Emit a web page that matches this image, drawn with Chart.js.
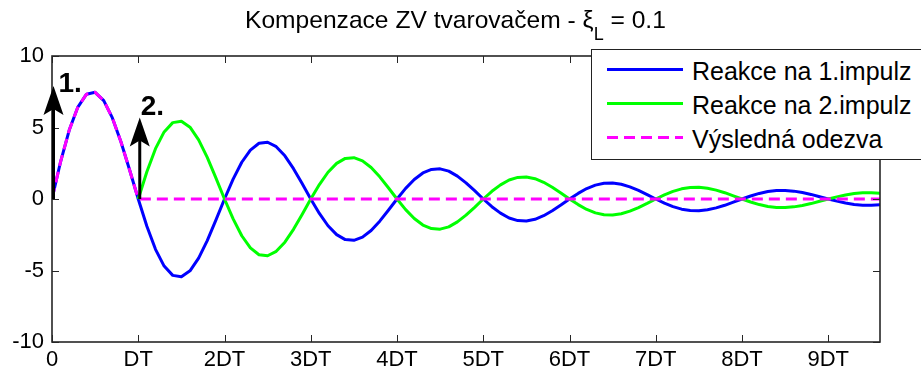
<!DOCTYPE html>
<html>
<head>
<meta charset="utf-8">
<script src="https://cdn.jsdelivr.net/npm/chart.js@4"></script>
<style>
    body { margin: 0; background: #fff; overflow: hidden; }
    #wrap { position: relative; width: 921px; height: 373px; overflow: hidden; font-family: "Liberation Sans", Arial, sans-serif; }
    #plot { position: absolute; left: 0; top: 0; }
    #title { position: absolute; left: 245px; top: 7px; font-size: 24.6px; line-height: 25px; white-space: nowrap; color: #000; }
    #title sub { font-size: 18px; position: relative; top: 12px; vertical-align: baseline; }
    #legend { position: absolute; left: 591px; top: 49px; width: 400px; height: 111px; box-sizing: border-box; border: 1.5px solid #222; background: #fff; }
    #legend .row { position: absolute; left: 0; height: 34px; line-height: 34px; font-size: 25px; white-space: nowrap; color: #000; }
    #legend .row svg { position: absolute; left: 14px; top: 0; }
    #legend .row span { position: absolute; left: 100px; }
</style>
</head>
<body>
<div id="wrap">
    <canvas id="plot" width="921" height="373"></canvas>
    <div id="title">Kompenzace ZV tvarovačem - ξ<sub>L</sub> = 0.1</div>
    <div id="legend"></div>
</div>
<script>
// time axis in multiples of DT
const tValues = [
    0, 0.1, 0.2, 0.3, 0.4, 0.5, 0.6, 0.7, 0.8, 0.9,
    1, 1.1, 1.2, 1.3, 1.4, 1.5, 1.6, 1.7, 1.8, 1.9,
    2, 2.1, 2.2, 2.3, 2.4, 2.5, 2.6, 2.7, 2.8, 2.9,
    3, 3.1, 3.2, 3.3, 3.4, 3.5, 3.6, 3.7, 3.8, 3.9,
    4, 4.1, 4.2, 4.3, 4.4, 4.5, 4.6, 4.7, 4.8, 4.9,
    5, 5.1, 5.2, 5.3, 5.4, 5.5, 5.6, 5.7, 5.8, 5.9,
    6, 6.1, 6.2, 6.3, 6.4, 6.5, 6.6, 6.7, 6.8, 6.9,
    7, 7.1, 7.2, 7.3, 7.4, 7.5, 7.6, 7.7, 7.8, 7.9,
    8, 8.1, 8.2, 8.3, 8.4, 8.5, 8.6, 8.7, 8.8, 8.9,
    9, 9.1, 9.2, 9.3, 9.4, 9.5, 9.6
];

const reakce1 = [
    0, 2.62, 4.82, 6.43, 7.33, 7.46, 6.88, 5.67, 3.99, 2.03,
    0, -1.91, -3.52, -4.69, -5.34, -5.44, -5.02, -4.13, -2.91, -1.48,
    0, 1.39, 2.57, 3.42, 3.90, 3.97, 3.66, 3.02, 2.12, 1.08,
    0, -1.01, -1.87, -2.49, -2.84, -2.89, -2.67, -2.20, -1.55, -0.79,
    0, 0.74, 1.36, 1.82, 2.07, 2.11, 1.95, 1.60, 1.13, 0.58,
    0, -0.54, -0.99, -1.33, -1.51, -1.54, -1.42, -1.17, -0.82, -0.42,
    0, 0.39, 0.73, 0.97, 1.10, 1.12, 1.03, 0.85, 0.60, 0.31,
    0, -0.29, -0.53, -0.71, -0.80, -0.82, -0.75, -0.62, -0.44, -0.22,
    0, 0.21, 0.39, 0.52, 0.59, 0.60, 0.55, 0.45, 0.32, 0.16,
    0, -0.15, -0.28, -0.38, -0.43, -0.44, -0.40
];

// second impulse starts at DT, nothing before it
const reakce2 = [
    null, null, null, null, null, null, null, null, null, null,
    0, 1.91, 3.52, 4.69, 5.34, 5.44, 5.02, 4.13, 2.91, 1.48,
    0, -1.39, -2.57, -3.42, -3.90, -3.97, -3.66, -3.02, -2.12, -1.08,
    0, 1.01, 1.87, 2.49, 2.84, 2.89, 2.67, 2.20, 1.55, 0.79,
    0, -0.74, -1.36, -1.82, -2.07, -2.11, -1.95, -1.60, -1.13, -0.58,
    0, 0.54, 0.99, 1.33, 1.51, 1.54, 1.42, 1.17, 0.82, 0.42,
    0, -0.39, -0.73, -0.97, -1.10, -1.12, -1.03, -0.85, -0.60, -0.31,
    0, 0.29, 0.53, 0.71, 0.80, 0.82, 0.75, 0.62, 0.44, 0.22,
    0, -0.21, -0.39, -0.52, -0.59, -0.60, -0.55, -0.45, -0.32, -0.16,
    0, 0.15, 0.28, 0.38, 0.43, 0.44, 0.40
];

const vysledna = [
    0, 2.62, 4.82, 6.43, 7.33, 7.46, 6.88, 5.67, 3.99, 2.03,
    0, 0, 0, 0, 0, 0, 0, 0, 0, 0,
    0, 0, 0, 0, 0, 0, 0, 0, 0, 0,
    0, 0, 0, 0, 0, 0, 0, 0, 0, 0,
    0, 0, 0, 0, 0, 0, 0, 0, 0, 0,
    0, 0, 0, 0, 0, 0, 0, 0, 0, 0,
    0, 0, 0, 0, 0, 0, 0, 0, 0, 0,
    0, 0, 0, 0, 0, 0, 0, 0, 0, 0,
    0, 0, 0, 0, 0, 0, 0, 0, 0, 0,
    0, 0, 0, 0, 0, 0, 0
];

const seriesNames = ["Reakce na 1.impulz", "Reakce na 2.impulz", "Výsledná odezva"];
const xTickLabels = ["0", "DT", "2DT", "3DT", "4DT", "5DT", "6DT", "7DT", "8DT", "9DT"];
const yTickValues = [-10, -5, 0, 5, 10];

// impulses of the ZV shaper
const impulseTimes = [0, 1];
const impulseHeights = [7.9, 5.7];
const impulseLabels = ["1.", "2."];

const toPoints = ys => tValues.map((t, i) => ({ x: t, y: ys[i] }));

// box around the axes with inward ticks on all four sides
const axisBox = {
    id: "axisBox",
    afterDatasetsDraw(chart) {
        const { ctx, chartArea: a, scales: { x, y } } = chart;
        ctx.save();
        ctx.strokeStyle = "#262626";
        ctx.lineWidth = 1;
        ctx.beginPath();
        x.ticks.forEach(t => {
            const px = Math.round(x.getPixelForValue(t.value)) + 0.5;
            ctx.moveTo(px, a.bottom); ctx.lineTo(px, a.bottom - 7);
            ctx.moveTo(px, a.top); ctx.lineTo(px, a.top + 7);
        });
        y.ticks.forEach(t => {
            const py = Math.round(y.getPixelForValue(t.value)) + 0.5;
            ctx.moveTo(a.left, py); ctx.lineTo(a.left + 7, py);
            ctx.moveTo(a.right, py); ctx.lineTo(a.right - 7, py);
        });
        ctx.stroke();
        ctx.lineWidth = 1.6;
        ctx.strokeRect(a.left, a.top, a.right - a.left, a.bottom - a.top);
        ctx.restore();
    }
};

// arrows marking the shaper impulses
const impulseArrows = {
    id: "impulseArrows",
    afterDraw(chart, args, opts) {
        const { ctx, scales: { x, y } } = chart;
        ctx.save();
        ctx.fillStyle = "#000";
        ctx.strokeStyle = "#000";
        impulseTimes.forEach((t, i) => {
            const px = x.getPixelForValue(t) + 1.5;
            const base = y.getPixelForValue(0);
            const tip = y.getPixelForValue(impulseHeights[i]);
            ctx.lineWidth = 3;
            ctx.beginPath();
            ctx.moveTo(px, base);
            ctx.lineTo(px, tip + 20);
            ctx.stroke();
            ctx.beginPath();
            ctx.moveTo(px, tip);
            ctx.lineTo(px - 10, tip + 29);
            ctx.lineTo(px, tip + 23);
            ctx.lineTo(px + 10, tip + 29);
            ctx.closePath();
            ctx.fill();
            const [dx, dy] = opts.labelOffsets[i];
            ctx.font = "bold 28px 'Liberation Sans', Arial, sans-serif";
            ctx.textBaseline = "alphabetic";
            ctx.fillText(impulseLabels[i], px + dx, tip + dy);
        });
        ctx.restore();
    }
};

const tickFont = { family: "'Liberation Sans', Arial, sans-serif", size: 22 };

const chart = new Chart(document.getElementById("plot"), {
    type: "line",
    data: {
        datasets: [
            { label: seriesNames[0], data: toPoints(reakce1), borderColor: "#0000ff", borderWidth: 3, order: 2 },
            { label: seriesNames[1], data: toPoints(reakce2), borderColor: "#00ff00", borderWidth: 3, order: 1 },
            { label: seriesNames[2], data: toPoints(vysledna), borderColor: "#ff00ff", borderWidth: 3, borderDash: [11, 6], order: 0 }
        ]
    },
    options: {
        responsive: false,
        animation: false,
        devicePixelRatio: 1,
        layout: { padding: { top: 56, right: 41, left: 0, bottom: 0 } },
        elements: { point: { radius: 0 }, line: { tension: 0, borderCapStyle: "butt", borderJoinStyle: "round" } },
        plugins: {
            legend: { display: false },
            title: { display: false },
            tooltip: { enabled: false },
            impulseArrows: { labelOffsets: [[5, 6], [1, -2]] }
        },
        scales: {
            x: {
                type: "linear",
                min: 0,
                max: 9.6,
                grid: { display: false, drawTicks: false },
                border: { display: false },
                afterBuildTicks: scale => { scale.ticks = xTickLabels.map((_, i) => ({ value: i })); },
                afterFit: scale => { scale.height = 31; },
                ticks: {
                    autoSkip: false,
                    maxRotation: 0,
                    padding: 5,
                    color: "#000",
                    font: tickFont,
                    callback: v => xTickLabels[v] ?? ""
                }
            },
            y: {
                min: -10,
                max: 10,
                grid: { display: false, drawTicks: false },
                border: { display: false },
                afterBuildTicks: scale => { scale.ticks = yTickValues.map(v => ({ value: v })); },
                afterFit: scale => { scale.width = 52; },
                ticks: { padding: 8, color: "#000", font: tickFont }
            }
        }
    },
    plugins: [axisBox, impulseArrows]
});

// legend built from the datasets
const legendEl = document.getElementById("legend");
chart.data.datasets.forEach((ds, i) => {
    const row = document.createElement("div");
    row.className = "row";
    row.style.top = (4 + 34 * i) + "px";
    const dash = ds.borderDash ? ` stroke-dasharray="${ds.borderDash.join(" ")}"` : "";
    row.innerHTML = `<svg width="78" height="34"><line x1="1" y1="15.5" x2="77" y2="15.5" stroke="${ds.borderColor}" stroke-width="3"${dash}/></svg><span>${ds.label}</span>`;
    legendEl.appendChild(row);
});
</script>
</body>
</html>
